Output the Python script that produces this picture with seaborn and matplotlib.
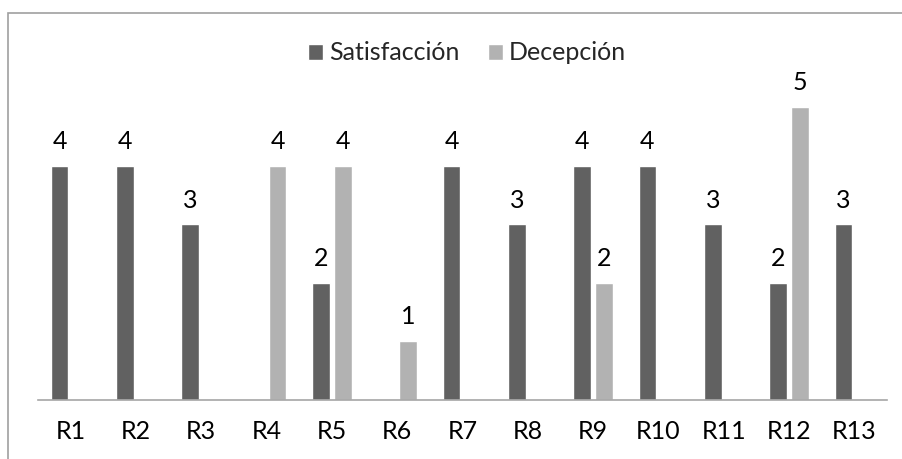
import numpy as np
import pandas as pd
import matplotlib
matplotlib.use("Agg")
import matplotlib.pyplot as plt
from matplotlib.patches import Rectangle
import seaborn as sns

# Data (NaN = no bar)
categories = ["R1", "R2", "R3", "R4", "R5", "R6", "R7", "R8", "R9", "R10", "R11", "R12", "R13"]
satisfaccion = [4, 4, 3, np.nan, 2, np.nan, 4, 3, 4, 4, 3, 2, 3]
decepcion = [np.nan, np.nan, np.nan, 4, 4, 1, np.nan, np.nan, 2, np.nan, np.nan, 5, np.nan]
series_names = ["Satisfacción", "Decepción"]

df = pd.DataFrame({
    "cat": categories * 2,
    "serie": [series_names[0]] * len(categories) + [series_names[1]] * len(categories),
    "valor": satisfaccion + decepcion,
})

sns.set_style("white")
plt.rcParams["font.family"] = ["Lato", "DejaVu Sans"]
FS = 18

W, H = 903, 459
fig = plt.figure(figsize=(W / 100, H / 100), dpi=100)
# plot area in pixels: x 38..887, baseline at y=399.5, ylim 0..6 -> top 48.5
ax = fig.add_axes([38 / W, (H - 399.5) / H, (887 - 38) / W, (399.5 - 48.5) / H])

sns.barplot(
    data=df, x="cat", y="valor", hue="serie",
    order=categories, hue_order=series_names,
    palette=["#616161", "#b2b2b2"],
    width=0.674, gap=0.2, saturation=1, errorbar=None,
    ax=ax,
)

# value labels
for cont in ax.containers:
    labs = ["" if (np.isnan(v) or v == 0) else f"{v:.0f}" for v in cont.datavalues]
    ax.bar_label(cont, labels=labs, padding=9, fontsize=FS, color="#000000")

ax.set_ylim(0, 6)
ax.set_xlim(-0.5, len(categories) - 0.5)
ax.set_xlabel("")
ax.set_ylabel("")
ax.set_yticks([])
ax.tick_params(axis="x", length=0, pad=15, labelsize=FS, labelcolor="#000000")
for s in ["top", "left", "right"]:
    ax.spines[s].set_visible(False)
ax.spines["bottom"].set_color("#a6a6a6")
ax.spines["bottom"].set_linewidth(1.2)

handles, labels = ax.get_legend_handles_labels()
ax.get_legend().remove()
fig.legend(
    handles, labels, ncol=2, loc="center",
    bbox_to_anchor=(467 / W, (H - 53) / H),
    frameon=False, fontsize=FS,
    handlelength=0.6, handleheight=0.6,
    handletextpad=0.25, columnspacing=1.15,
)

# outer chart border (cropped on right and bottom)
fig.patches.append(Rectangle((8 / W, -0.1), 1.2, (H - 13) / H + 0.1,
                             transform=fig.transFigure, fill=False,
                             edgecolor="#a0a0a0", linewidth=1.2))

fig.savefig("out.png", dpi=100)
